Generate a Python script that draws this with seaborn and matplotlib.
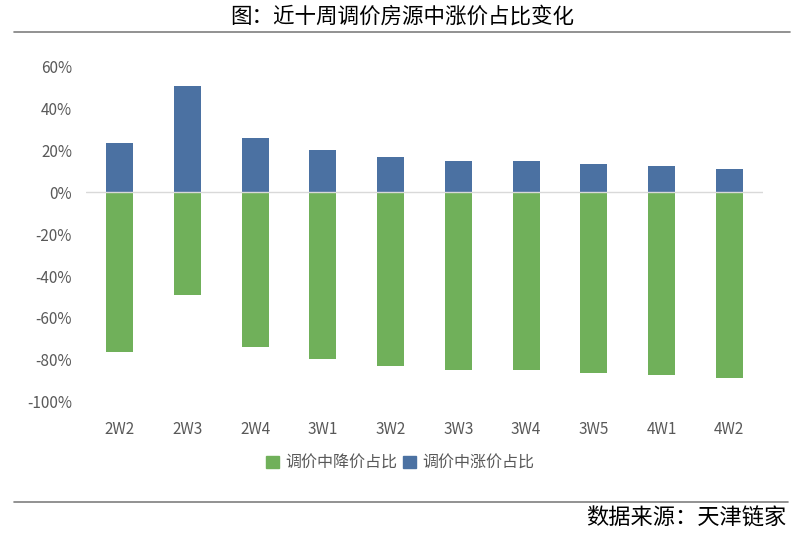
import seaborn as sns
import matplotlib.pyplot as plt
import pandas as pd
from matplotlib.lines import Line2D
from matplotlib.ticker import PercentFormatter

weeks = ["2W2", "2W3", "2W4", "3W1", "3W2", "3W3", "3W4", "3W5", "4W1", "4W2"]
price_up = [0.235, 0.507, 0.259, 0.202, 0.169, 0.149, 0.149, 0.135, 0.126, 0.112]
price_down = [-0.761, -0.489, -0.737, -0.794, -0.828, -0.847, -0.847, -0.861, -0.871, -0.885]

down_label = "调价中降价占比"
up_label = "调价中涨价占比"

df = pd.concat([
    pd.DataFrame({"week": weeks, "share": price_down, "kind": down_label}),
    pd.DataFrame({"week": weeks, "share": price_up, "kind": up_label}),
])

sns.set_style("white")
plt.rcParams['font.family'] = ['Noto Sans CJK SC', 'DejaVu Sans']
plt.rcParams['axes.unicode_minus'] = False

fig = plt.figure(figsize=(7.94, 5.35), dpi=100)
ax = fig.add_axes([0.1083, 0.249, 0.8527, 0.6265])

sns.barplot(data=df, x="week", y="share", hue="kind",
            hue_order=[down_label, up_label],
            palette=["#70b05a", "#4b71a2"],
            dodge=False, width=0.4, saturation=1, linewidth=0,
            ax=ax, legend=False)

ax.set_ylim(-1.0, 0.6)
ax.set_xlim(-0.5, len(weeks) - 0.5)
ax.set_yticks([-1.0, -0.8, -0.6, -0.4, -0.2, 0, 0.2, 0.4, 0.6])
ax.yaxis.set_major_formatter(PercentFormatter(1.0, decimals=0))
ax.axhline(0, color="#d9d9d9", lw=1.0, zorder=3)
ax.set_xlabel("")
ax.set_ylabel("")
for s in ax.spines.values():
    s.set_visible(False)
ax.tick_params(axis="both", length=0, labelsize=11, colors="#595959")
ax.tick_params(axis="x", pad=14)
ax.tick_params(axis="y", pad=10)

handles = [plt.Rectangle((0, 0), 1, 1, color="#70b05a"),
           plt.Rectangle((0, 0), 1, 1, color="#4b71a2")]
fig.legend(handles, [down_label, up_label], loc="center", bbox_to_anchor=(0.504, 0.135),
           ncol=2, frameon=False, fontsize=11.5, handlelength=0.8, handleheight=0.8,
           handletextpad=0.4, columnspacing=0.4, labelcolor="#595959")

fig.text(0.506, 0.968, "图：近十周调价房源中涨价占比变化", ha="center", va="center",
         fontsize=15.5, color="black")
fig.text(0.991, 0.032, "数据来源：天津链家", ha="right", va="center",
         fontsize=16, color="black")

fig.add_artist(Line2D([0.0176, 0.995], [0.9396, 0.9396], color="#7f7f7f", lw=1.2))
fig.add_artist(Line2D([0.0176, 0.993], [0.0611, 0.0611], color="#7f7f7f", lw=1.2))

fig.savefig("out.png", dpi=100)
